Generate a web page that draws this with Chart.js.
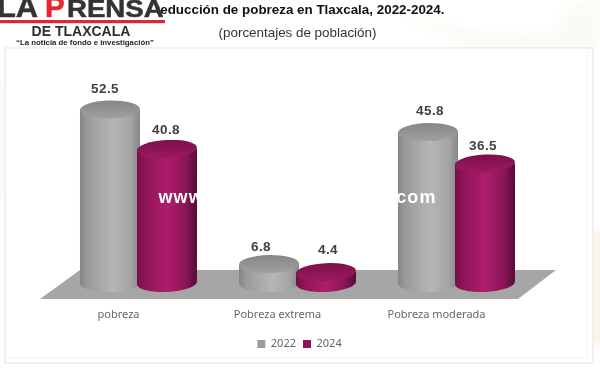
<!DOCTYPE html>
<html>
<head>
<meta charset="utf-8">
<style>
html,body{margin:0;padding:0;background:#fff;}
#wrap{position:relative;width:600px;height:370px;}
canvas{display:block;}
</style>
<script src="https://cdn.jsdelivr.net/npm/chart.js@4"></script>
</head>
<body>
<div id="wrap"><canvas id="c" width="600" height="370"></canvas></div>
<script>
const categories = ["pobreza", "Pobreza extrema", "Pobreza moderada"];
const seriesNames = ["2022", "2024"];
const values2022 = [52.5, 6.8, 45.8];
const values2024 = [40.8, 4.4, 36.5];
const titleText = "Reducción de pobreza en Tlaxcala, 2022-2024.";
const subtitleText = "(porcentajes de población)";
const watermarkText = "www.laprensadetlaxcala.com";

const valueNudge = [[[-5,-20],[-8,-17],[2,-21]], [[-1,-19],[2,-22],[-2,-17]]];
const bodyStops = [
  [[0,"#858585"],[0.12,"#9a9a9a"],[0.55,"#b6b6b6"],[0.85,"#a4a4a4"],[1,"#868686"]],
  [[0,"#751049"],[0.12,"#8d1457"],[0.5,"#ae1d6c"],[0.82,"#8a1556"],[1,"#560c36"]]
];
const capStops = [[[0,"#868686"],[1,"#a0a0a0"]],[[0,"#7c1049"],[1,"#9b1a60"]]];
const tilt = [-0.02,-0.05];
const RY = 9;

function linear(ctx,x0,y0,x1,y1,stops){
  const g = ctx.createLinearGradient(x0,y0,x1,y1);
  stops.forEach(s=>g.addColorStop(s[0],s[1]));
  return g;
}

const scenery = {
  id:'scenery',
  afterLayout(chart){
    if(chart.legend){ chart.legend.left += 2; chart.legend.right += 2; }
  },
  beforeDraw(chart){
    const c = chart.ctx;
    c.save();
    c.fillStyle="#fff"; c.fillRect(0,0,600,370);
    c.filter="blur(4px)";
    c.fillStyle="#fcfaf4";
    c.beginPath(); c.moveTo(395,14); c.quadraticCurveTo(470,34,550,34);
    c.lineTo(570,4); c.lineTo(600,0); c.lineTo(600,48); c.lineTo(470,48); c.closePath(); c.fill();
    c.fillStyle="#f0e8d8";
    c.fillRect(596,230,6,115);
    c.fillStyle="#f7f4ea";
    c.fillRect(-2,80,5,120);
    c.filter="none";
    c.fillStyle="#fff"; c.fillRect(5,48,588,315);
    c.strokeStyle="#e6e6e6"; c.lineWidth=1.2;
    c.strokeRect(5,48,588,315);
    c.strokeStyle="#f3f3f3"; c.lineWidth=1;
    c.beginPath(); c.moveTo(587.5,49); c.lineTo(587.5,358); c.lineTo(8,358); c.stroke();
    c.restore();
  },
  beforeDatasetsDraw(chart){
    const c = chart.ctx, a = chart.chartArea;
    c.save();
    c.fillStyle="#a6a6a6";
    c.beginPath();
    c.moveTo(a.left+21,a.bottom-17);
    c.lineTo(a.right+20,a.bottom-17);
    c.lineTo(a.right-18,a.bottom+12);
    c.lineTo(a.left-19,a.bottom+12);
    c.closePath(); c.fill();
    [0,1].forEach(d=>{
      chart.getDatasetMeta(d).data.forEach(el=>{
        const L=el.x-el.width/2, R=el.x+el.width/2, rx=el.width/2;
        const body=linear(c,L,0,R,0,bodyStops[d]);
        c.fillStyle=body;
        c.beginPath();
        c.moveTo(L,el.y);
        c.lineTo(L,el.base);
        c.ellipse(el.x,el.base,rx,RY,tilt[d],Math.PI,0,true);
        c.lineTo(R,el.y);
        c.closePath(); c.fill();
        c.fillStyle=linear(c,0,el.y-RY,0,el.y+RY,capStops[d]);
        c.beginPath();
        c.ellipse(el.x,el.y,rx,RY,tilt[d],0,Math.PI*2);
        c.fill();
      });
    });
    c.restore();
  },
  beforeDatasetDraw(){ return false; },
  afterDatasetsDraw(chart){
    const c = chart.ctx;
    c.save();
    c.font="bold 13.5px 'Liberation Sans'";
    c.fillStyle="#404040";
    c.textAlign="center"; c.textBaseline="middle";
    if('letterSpacing' in c) c.letterSpacing="0.4px";
    [0,1].forEach(d=>{
      chart.getDatasetMeta(d).data.forEach((el,i)=>{
        const v=chart.data.datasets[d].data[i];
        c.fillText(v.toFixed(1), el.x+valueNudge[d][i][0], el.y+valueNudge[d][i][1]);
      });
    });
    c.restore();
  },
  afterDraw(chart){
    const c = chart.ctx;
    c.save();
    // watermark
    c.font="bold 18px 'Liberation Sans'";
    c.fillStyle="#fff";
    c.textAlign="center"; c.textBaseline="middle";
    if('letterSpacing' in c) c.letterSpacing="1.1px";
    c.fillText(watermarkText,297.5,198);
    if('letterSpacing' in c) c.letterSpacing="0px";
    // masthead
    c.fillStyle="#fff"; c.fillRect(0,0,157,20);
    c.textAlign="left"; c.textBaseline="alphabetic";
    const word=(t,x,y,size,sx,col)=>{
      c.save(); c.translate(x,y); c.scale(sx,1);
      c.font="bold "+size+"px 'Liberation Sans'";
      c.fillStyle=col; c.strokeStyle=col; c.lineWidth=0.5;
      c.fillText(t,0,0); c.strokeText(t,0,0); c.restore();
    };
    word("LA",-3,17,30,1.03,"#333333");
    word("P",45,17,30,0.98,"#e5272e");
    word("RENSA",67,17,23,1.2,"#333333");
    c.fillStyle="#e0262e"; c.fillRect(0,20,165,3.2);
    c.textAlign="center";
    c.font="bold 14px 'Liberation Sans'"; c.fillStyle="#2e2e2e";
    c.fillText("DE TLAXCALA",81,36);
    c.font="bold 7.8px 'Liberation Sans'"; c.fillStyle="#222";
    c.fillText("“La noticia de fondo e investigación”",85,45);
    c.restore();
  }
};

new Chart(document.getElementById('c'),{
  type:'bar',
  data:{
    labels:categories,
    datasets:[
      {label:seriesNames[0],data:values2022,backgroundColor:"#9c9c9c",base:1.2},
      {label:seriesNames[1],data:values2024,backgroundColor:"#8e1457",base:1.2}
    ]
  },
  plugins:[scenery],
  options:{
    responsive:false,
    animation:false,
    categoryPercentage:0.717,
    barPercentage:1.053,
    layout:{padding:{left:59,right:64,top:2.5,bottom:10.5}},
    plugins:{
      title:{display:true,text:titleText,color:"#111",font:{family:"'Liberation Sans'",size:13.4,weight:'bold',lineHeight:1.2},padding:{top:0,bottom:6.9}},
      subtitle:{display:true,text:subtitleText,color:"#333",font:{family:"'Liberation Sans'",size:13.4,lineHeight:1.2},padding:{top:0,bottom:42.5}},
      legend:{position:'bottom',labels:{boxWidth:8,boxHeight:8,padding:7,color:"#666",font:{family:"'Noto Sans'",size:11}}},
      tooltip:{enabled:false}
    },
    scales:{
      x:{
        grid:{display:false,drawTicks:false},
        border:{display:false},
        afterFit(s){ s.height=44.5; },
        ticks:{color:"#666666",font:{family:"'Noto Sans'",size:11},padding:21,labelOffset:-20,autoSkip:false,maxRotation:0}
      },
      y:{
        display:false,min:0,max:60
      }
    }
  }
});
</script>
</body>
</html>
